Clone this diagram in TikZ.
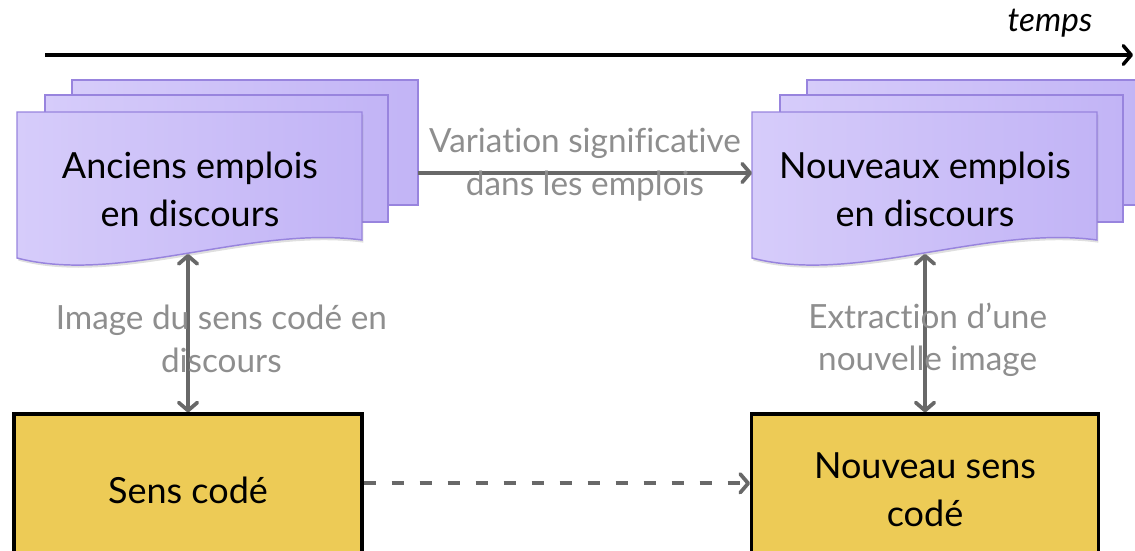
\documentclass[tikz,border=0pt]{standalone}
\usepackage{fontspec}
\setmainfont{Lato}[Ligatures=NoCommon]
\usetikzlibrary{positioning,arrows.meta,shadows}

\definecolor{lavclair}{RGB}{214,204,250}
\definecolor{lavande}{RGB}{194,180,246}
\definecolor{lavbord}{RGB}{152,132,222}
\definecolor{ocre}{RGB}{237,203,86}
\definecolor{gristrait}{RGB}{104,104,104}
\definecolor{grisetiq}{RGB}{142,142,142}

\tikzset{
  pointe/.tip={Straight Barb[length=6pt,width=14pt,round]},
  feuille/.style={draw=lavbord, line width=1.1pt, left color=lavclair, right color=lavande},
  texte/.style={align=center, font=\fontsize{27}{36}\selectfont},
  boite/.style={draw=black, line width=2.4pt, fill=ocre, minimum height=114pt,
    align=center, font=\fontsize{27}{36}\selectfont},
  etiq/.style={align=center, text=grisetiq, font=\fontsize{25}{32}\selectfont},
  lien/.style={draw=gristrait, line width=2.8pt, -pointe},
}

% pile de trois feuilles, #2 = coin haut gauche de la feuille avant
\newcommand{\pile}[2]{%
  \begin{scope}[shift={#2}]
    \draw[feuille] (55,-32) rectangle ++(346,125);
    \draw[feuille] (28,-17) rectangle ++(343,127);
    \draw[feuille, drop shadow={opacity=0.25, shadow xshift=1pt, shadow yshift=-2pt}]
      (0,0) -- (345,0) -- (345,128)
      .. controls (233,113) and (103,173) .. (0,146) -- cycle;
    \coordinate (#1-dos) at (401,61);
    \coordinate (#1-face) at (0,61);
    \coordinate (#1-bas) at (172,142);
  \end{scope}}

\begin{document}
\begin{tikzpicture}[x=0.75pt, y=-0.75pt]
\clip (0,0) rectangle (1135,550);

% axe du temps
\coordinate (t0) at (45,55);
\coordinate (t1) at (1133,55);
\draw[line width=2.6pt, -pointe] (t0) -- (t1);
\node[font=\fontsize{25}{30}\selectfont\itshape, anchor=south east] (temps) at (1097,42) {temps};

% les emplois
\pile{ancien}{(17,112)}
\pile{nouveau}{(752,112)}
\node[texte] (anciens) at (190,189) {Anciens emplois\\en discours};
\node[texte] (nouveaux) at (925,189) {Nouveaux emplois\\en discours};

% les sens
\node[boite, minimum width=261pt] (sens) at (188,490) {Sens codé};
\node[boite, minimum width=260pt] (nsens) at (925,490) {Nouveau sens\\codé};

% liens
\draw[lien] (ancien-dos) -- (nouveau-face)
  node[etiq, midway, yshift=6pt] (variation) {Variation significative\\dans les emplois};
\draw[lien, pointe-pointe] (sens.north) -- (sens.north |- ancien-bas)
  node[etiq, midway, xshift=25pt, yshift=-4pt] (image) {Image du sens codé en\\discours};
\draw[lien, pointe-pointe] (nsens.north) -- (nsens.north |- nouveau-bas)
  node[etiq, midway, xshift=2pt, yshift=-5pt] (extraction) {Extraction d’une\\nouvelle image};
\draw[lien, dash pattern=on 9pt off 12pt] ([yshift=5pt]sens.east) -- ([yshift=5pt]nsens.west);
\end{tikzpicture}
\end{document}
